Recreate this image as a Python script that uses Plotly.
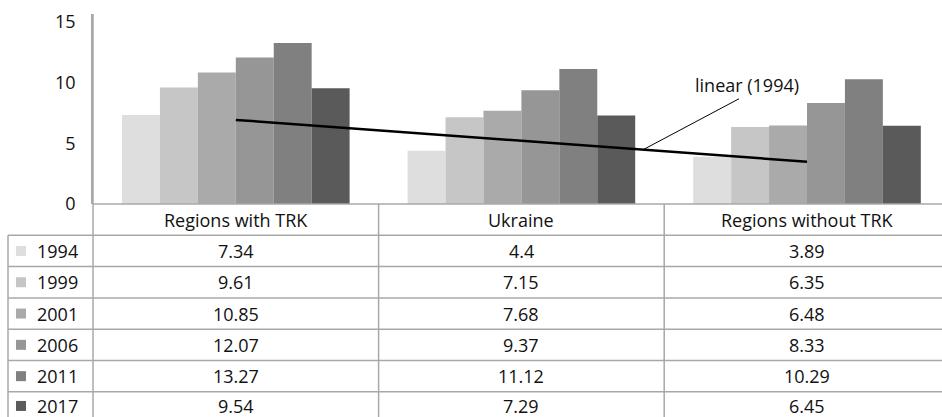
import numpy as np
import plotly.graph_objects as go

categories = ["Regions with TRK", "Ukraine", "Regions without TRK"]
years = ["1994", "1999", "2001", "2006", "2011", "2017"]
v1994 = [7.34, 4.4, 3.89]
v1999 = [9.61, 7.15, 6.35]
v2001 = [10.85, 7.68, 6.48]
v2006 = [12.07, 9.37, 8.33]
v2011 = [13.27, 11.12, 10.29]
v2017 = [9.54, 7.29, 6.45]
series = [v1994, v1999, v2001, v2006, v2011, v2017]
colors = ["#dedede", "#c6c6c6", "#aaaaaa", "#969696", "#808080", "#5a5a5a"]
trend_label = "linear (1994)"

W, H = 942, 417
L, T, B = 93, 14, 204          # plot area pixel edges
PW, PH = W - L, B - T
CAT_W = 285.6                  # category width in px
ROW_H = 31.3
GRID = "#a8a8a8"
FONT = "Open Sans"
FS = 18
TXT = "#111111"

def px_x(px):
    return (px - L) / PW

def px_y(py):
    return (B - py) / PH

fig = go.Figure()
for yr, vals, c in zip(years, series, colors):
    fig.add_trace(go.Bar(x=categories, y=vals, name=yr, marker=dict(color=c, line=dict(width=0))))

# linear trendline for 1994
xi = np.arange(len(categories))
slope, intercept = np.polyfit(xi, v1994, 1)
trend = slope * xi + intercept
fig.add_trace(go.Scatter(x=categories, y=trend, mode="lines",
                         line=dict(color="black", width=2.5), showlegend=False))

shapes = []
line = dict(color=GRID, width=1.5)
# horizontal table lines
shapes.append(dict(type="line", xref="paper", yref="paper", x0=0, x1=1,
                   y0=0, y1=0, line=line))
for k in range(1, 8):
    y = px_y(B + k * ROW_H)
    shapes.append(dict(type="line", xref="paper", yref="paper", x0=px_x(8), x1=1,
                       y0=y, y1=y, line=line))
# verticals
shapes.append(dict(type="line", xref="paper", yref="paper", x0=px_x(8), x1=px_x(8),
                   y0=px_y(B + ROW_H), y1=px_y(H + 10), line=line))
shapes.append(dict(type="line", xref="paper", yref="paper", x0=0, x1=0,
                   y0=1, y1=px_y(H + 10), line=line))
for b in [0.5, 1.5]:
    shapes.append(dict(type="line", xref="x", yref="paper", x0=b, x1=b,
                       y0=0, y1=px_y(H + 10), line=line))

annotations = []
for i, cat in enumerate(categories):
    annotations.append(dict(x=i, y=px_y(B + ROW_H / 2), xref="x", yref="paper",
                            text=cat, showarrow=False, font=dict(family=FONT, size=FS, color=TXT),
                            xanchor="center", yanchor="middle"))
for r, (yr, vals, c) in enumerate(zip(years, series, colors)):
    yc = B + ROW_H * (r + 1.5)
    if r == len(years) - 1:
        yc -= 1.5
    shapes.append(dict(type="rect", xref="paper", yref="paper", x0=px_x(16), x1=px_x(26),
                       y0=px_y(yc - 5), y1=px_y(yc + 5), fillcolor=c, line=dict(width=0)))
    annotations.append(dict(x=px_x(35), y=px_y(yc), xref="paper", yref="paper",
                            text=yr, showarrow=False, font=dict(family=FONT, size=FS, color=TXT),
                            xanchor="left", yanchor="middle"))
    for i, v in enumerate(vals):
        annotations.append(dict(x=i, y=px_y(yc), xref="x", yref="paper",
                                text=str(v), showarrow=False,
                                font=dict(family=FONT, size=FS, color=TXT),
                                xanchor="center", yanchor="middle"))

# trendline label with leader line
lx = 1.426
ly = slope * lx + intercept
shapes.append(dict(type="line", xref="x", yref="y", x0=lx, y0=ly,
                   x1=lx + 96 / CAT_W, y1=ly + 51 / (PH / 15.66), line=dict(color="black", width=1)))
annotations.append(dict(x=px_x(747), y=px_y(85), xref="paper", yref="paper",
                        text=trend_label, showarrow=False,
                        font=dict(family=FONT, size=FS, color=TXT),
                        xanchor="center", yanchor="middle"))

fig.update_layout(
    width=W, height=H,
    margin=dict(l=L, r=0, t=T, b=H - B, pad=0),
    paper_bgcolor="white", plot_bgcolor="white",
    barmode="group", bargap=0.203, bargroupgap=0,
    showlegend=False,
    shapes=shapes, annotations=annotations,
    font=dict(family=FONT, size=FS, color=TXT),
    xaxis=dict(range=[-0.5, -0.5 + PW / CAT_W], showticklabels=False, showline=False,
               showgrid=False, zeroline=False, ticks=""),
    yaxis=dict(range=[0, PH / 12.13], tickvals=[0, 5, 10, 15], showgrid=False,
               zeroline=False, showline=True, linecolor=GRID, linewidth=1.5,
               ticks="outside", ticklen=12, tickcolor="rgba(0,0,0,0)",
               tickfont=dict(family=FONT, size=FS, color=TXT)),
)

fig.write_html("out.html")
